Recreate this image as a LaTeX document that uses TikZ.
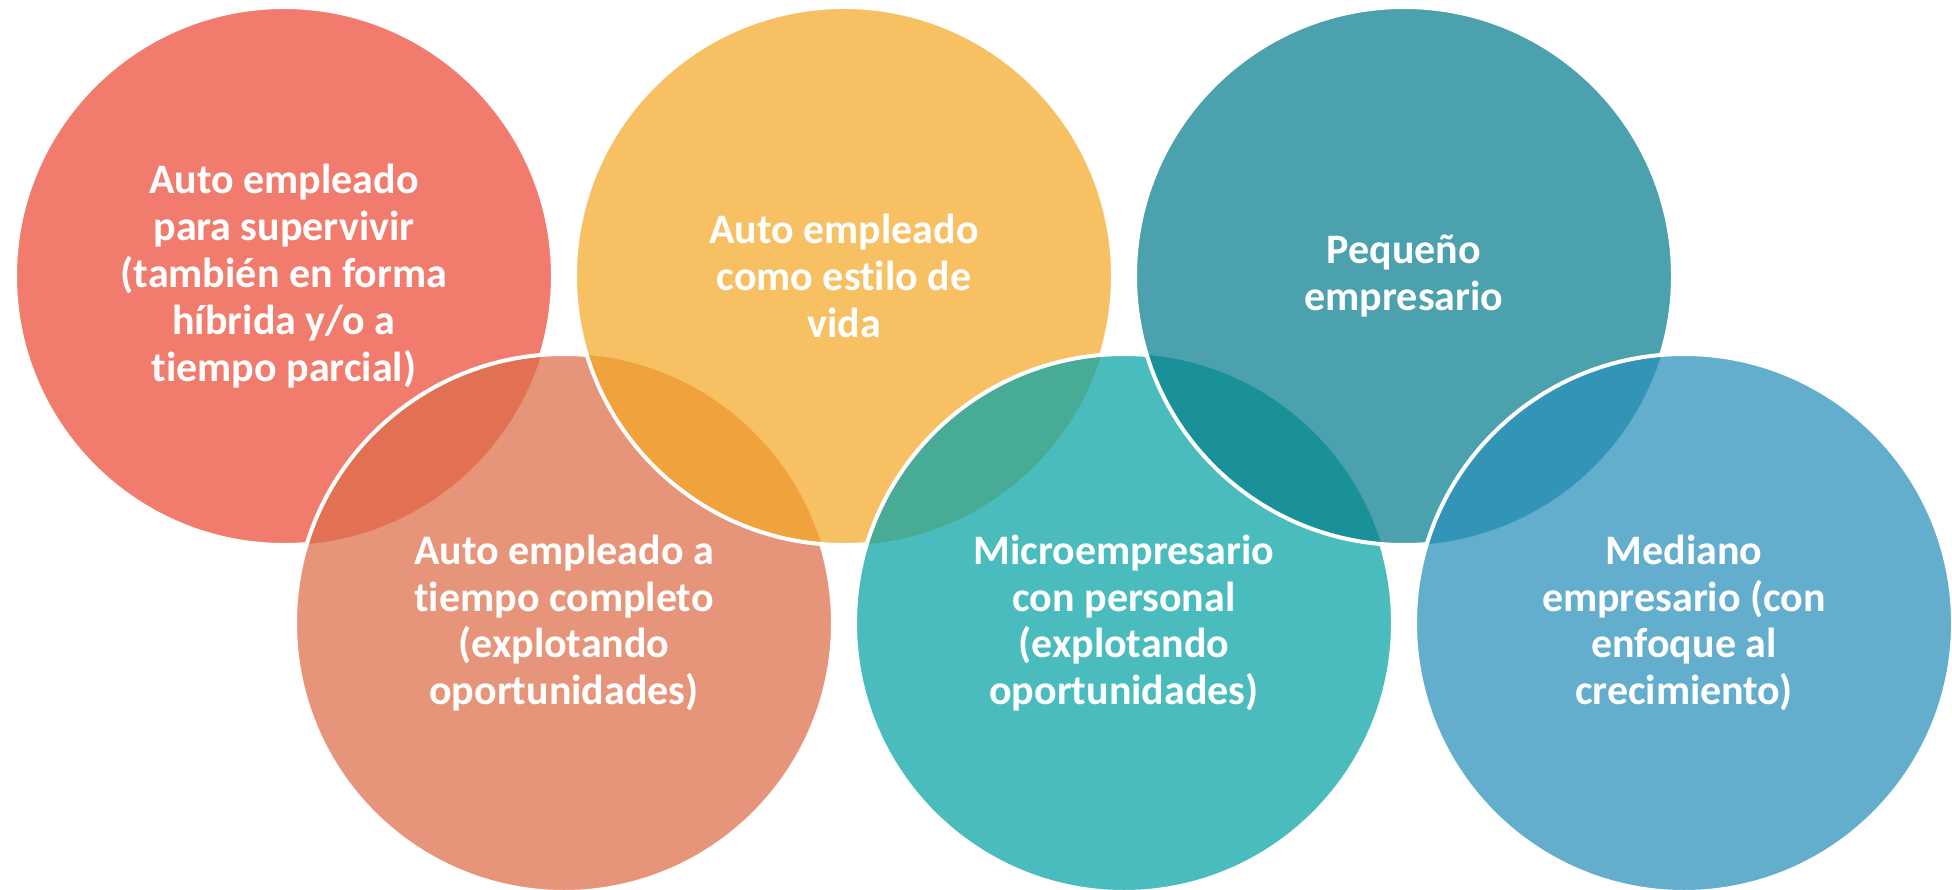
\documentclass[tikz,border=0pt]{standalone}
\usepackage{fontspec}
\setmainfont{Carlito}[Ligatures=NoCommon]
\definecolor{cred}{HTML}{F17C6D}
\definecolor{csal}{HTML}{E7957A}
\definecolor{cyel}{HTML}{F6C063}
\definecolor{ctur}{HTML}{4ABCBE}
\definecolor{cteal}{HTML}{4BA1AD}
\definecolor{cblue}{HTML}{63ADCD}
\definecolor{lrs}{HTML}{E27052}
\definecolor{lsy}{HTML}{F0A23C}
\definecolor{lyt}{HTML}{47AB95}
\definecolor{ltt}{HTML}{1A9099}
\definecolor{ltb}{HTML}{3295B8}
\tikzset{
  bubble/.style={circle, minimum size=538pt, inner sep=0pt},
  rim/.style={draw=white, line width=4pt},
  txt/.style={text=white, align=center, font=\fontsize{42}{46.8}\selectfont\bfseries}
}
\begin{document}
\begin{tikzpicture}[x=1pt,y=-1pt]
\useasboundingbox (0,0) rectangle (1952,890);
% positions
\coordinate (pR) at (284,276);
\coordinate (pS) at (564,623);
\coordinate (pY) at (844,276);
\coordinate (pT) at (1124,623);
\coordinate (pP) at (1404,276);
\coordinate (pB) at (1684,623);
% red
\node[bubble, fill=cred] (red) at (pR) {};
\draw[rim] (pR) circle [radius=269pt];
% salmon
\node[bubble, fill=csal] (sal) at (pS) {};
\begin{scope}
  \clip (pR) circle [radius=269pt];
  \fill[lrs] (pS) circle [radius=269pt];
\end{scope}
\draw[rim] (pS) circle [radius=269pt];
% yellow
\node[bubble, fill=cyel] (yel) at (pY) {};
\begin{scope}
  \clip (pS) circle [radius=269pt];
  \fill[lsy] (pY) circle [radius=269pt];
\end{scope}
\draw[rim] (pY) circle [radius=269pt];
% turquoise
\node[bubble, fill=ctur] (tur) at (pT) {};
\begin{scope}
  \clip (pY) circle [radius=269pt];
  \fill[lyt] (pT) circle [radius=269pt];
\end{scope}
\draw[rim] (pT) circle [radius=269pt];
% teal
\node[bubble, fill=cteal] (teal) at (pP) {};
\begin{scope}
  \clip (pT) circle [radius=269pt];
  \fill[ltt] (pP) circle [radius=269pt];
\end{scope}
\draw[rim] (pP) circle [radius=269pt];
% blue
\node[bubble, fill=cblue] (blue) at (pB) {};
\begin{scope}
  \clip (pP) circle [radius=269pt];
  \fill[ltb] (pB) circle [radius=269pt];
\end{scope}
\draw[rim] (pB) circle [radius=269pt];
% texts
\node[txt] (tred) at (red.center) {Auto empleado\\para supervivir\\(también en forma\\híbrida y/o a\\tiempo parcial)};
\node[txt] (tyel) at (yel.center) {Auto empleado\\como estilo de\\vida};
\node[txt] (tteal) at (teal.center) {Pequeño\\empresario};
\node[txt] (tsal) at (sal.center) {Auto empleado a\\tiempo completo\\(explotando\\oportunidades)};
\node[txt] (ttur) at (tur.center) {Microempresario\\con personal\\(explotando\\oportunidades)};
\node[txt] (tblue) at (blue.center) {Mediano\\empresario (con\\enfoque al\\crecimiento)};
\end{tikzpicture}
\end{document}
